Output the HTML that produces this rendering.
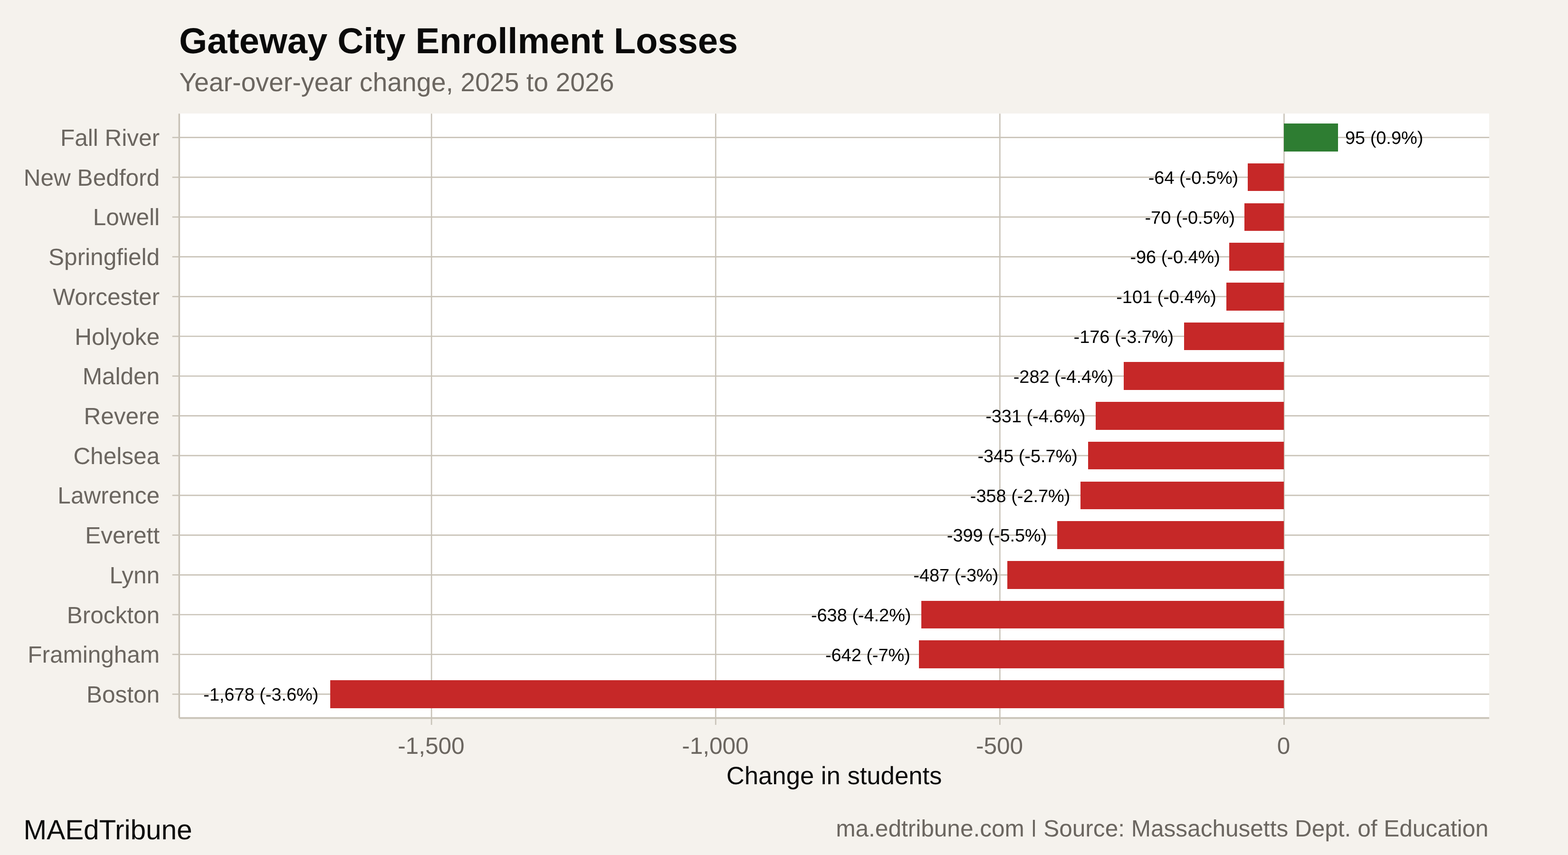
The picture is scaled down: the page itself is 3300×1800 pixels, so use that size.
<!DOCTYPE html>
<html lang="en">
<head>
<meta charset="utf-8">
<title>Gateway City Enrollment Losses</title>
<style>
html,body{margin:0;padding:0;background:#F5F2ED;}
body{width:3300px;height:1800px;}
svg{display:block;}
text{font-family:"Liberation Sans",sans-serif;text-rendering:geometricPrecision;}
.title{font-weight:bold;font-size:75.85px;fill:#0A0A0A;}
.sub{font-size:55.25px;fill:#6B6660;letter-spacing:0.06px;}
.ylab{font-size:49.5px;fill:#6B6660;text-anchor:end;}
.xlab{font-size:49.5px;fill:#6B6660;text-anchor:middle;}
.xtitle{font-size:52.65px;fill:#0A0A0A;text-anchor:middle;}
.val{font-size:37.9px;fill:#000000;}
.cap{font-size:49.56px;fill:#6B6660;text-anchor:end;}
.brand{font-size:58.43px;fill:#0A0A0A;}
</style>
</head>
<body>
<svg width="3300" height="1800" viewBox="0 0 3300 1800" role="img" aria-label="Gateway City Enrollment Losses bar chart">
<rect x="0" y="0" width="3300" height="1800" fill="#F5F2ED"/>
<rect x="377" y="239" width="2757" height="1273" fill="#FFFFFF"/>
<g stroke="#C9C3B8" stroke-width="2.67" fill="none">
<line x1="908.12" y1="239.2" x2="908.12" y2="1511.6"/>
<line x1="1506.22" y1="239.2" x2="1506.22" y2="1511.6"/>
<line x1="2104.32" y1="239.2" x2="2104.32" y2="1511.6"/>
<line x1="2702.42" y1="239.2" x2="2702.42" y2="1511.6"/>
<line x1="377" y1="289.45" x2="3134.2" y2="289.45"/>
<line x1="377" y1="373.16" x2="3134.2" y2="373.16"/>
<line x1="377" y1="456.88" x2="3134.2" y2="456.88"/>
<line x1="377" y1="540.59" x2="3134.2" y2="540.59"/>
<line x1="377" y1="624.31" x2="3134.2" y2="624.31"/>
<line x1="377" y1="708.02" x2="3134.2" y2="708.02"/>
<line x1="377" y1="791.73" x2="3134.2" y2="791.73"/>
<line x1="377" y1="875.45" x2="3134.2" y2="875.45"/>
<line x1="377" y1="959.16" x2="3134.2" y2="959.16"/>
<line x1="377" y1="1042.88" x2="3134.2" y2="1042.88"/>
<line x1="377" y1="1126.59" x2="3134.2" y2="1126.59"/>
<line x1="377" y1="1210.3" x2="3134.2" y2="1210.3"/>
<line x1="377" y1="1294.02" x2="3134.2" y2="1294.02"/>
<line x1="377" y1="1377.73" x2="3134.2" y2="1377.73"/>
<line x1="377" y1="1461.45" x2="3134.2" y2="1461.45"/>
</g>
<rect x="2702" y="260" width="114" height="59" fill="#2E7D32"/>
<rect x="2626" y="344" width="76" height="58" fill="#C62828"/>
<rect x="2619" y="428" width="83" height="58" fill="#C62828"/>
<rect x="2587" y="511" width="115" height="59" fill="#C62828"/>
<rect x="2581" y="595" width="121" height="59" fill="#C62828"/>
<rect x="2492" y="679" width="210" height="58" fill="#C62828"/>
<rect x="2365" y="762" width="337" height="59" fill="#C62828"/>
<rect x="2306" y="846" width="396" height="59" fill="#C62828"/>
<rect x="2290" y="930" width="412" height="58" fill="#C62828"/>
<rect x="2274" y="1014" width="428" height="58" fill="#C62828"/>
<rect x="2225" y="1097" width="477" height="59" fill="#C62828"/>
<rect x="2120" y="1181" width="582" height="59" fill="#C62828"/>
<rect x="1939" y="1265" width="763" height="58" fill="#C62828"/>
<rect x="1934" y="1348" width="768" height="59" fill="#C62828"/>
<rect x="695" y="1432" width="2007" height="59" fill="#C62828"/>
<text class="val" x="2830.99" y="303.35" text-anchor="start">95 (0.9%)</text>
<text class="val" x="2606.21" y="387.06" text-anchor="end">-64 (-0.5%)</text>
<text class="val" x="2599.03" y="470.78" text-anchor="end">-70 (-0.5%)</text>
<text class="val" x="2567.93" y="554.49" text-anchor="end">-96 (-0.4%)</text>
<text class="val" x="2559.84" y="638.21" text-anchor="end">-101 (-0.4%)</text>
<text class="val" x="2470.13" y="721.92" text-anchor="end">-176 (-3.7%)</text>
<text class="val" x="2343.33" y="805.63" text-anchor="end">-282 (-4.4%)</text>
<text class="val" x="2284.72" y="889.35" text-anchor="end">-331 (-4.6%)</text>
<text class="val" x="2267.97" y="973.06" text-anchor="end">-345 (-5.7%)</text>
<text class="val" x="2252.42" y="1056.78" text-anchor="end">-358 (-2.7%)</text>
<text class="val" x="2203.38" y="1140.49" text-anchor="end">-399 (-5.5%)</text>
<text class="val" x="2101.27" y="1224.2" text-anchor="end">-487 (-3%)</text>
<text class="val" x="1917.48" y="1307.92" text-anchor="end">-638 (-4.2%)</text>
<text class="val" x="1915.86" y="1391.63" text-anchor="end">-642 (-7%)</text>
<text class="val" x="670.27" y="1475.35" text-anchor="end">-1,678 (-3.6%)</text>
<g stroke="#C9C3B8" stroke-width="2.67" fill="none">
<line x1="908.12" y1="1511.6" x2="908.12" y2="1526"/>
<line x1="1506.22" y1="1511.6" x2="1506.22" y2="1526"/>
<line x1="2104.32" y1="1511.6" x2="2104.32" y2="1526"/>
<line x1="2702.42" y1="1511.6" x2="2702.42" y2="1526"/>
<line x1="362.6" y1="289.45" x2="377" y2="289.45"/>
<line x1="362.6" y1="373.16" x2="377" y2="373.16"/>
<line x1="362.6" y1="456.88" x2="377" y2="456.88"/>
<line x1="362.6" y1="540.59" x2="377" y2="540.59"/>
<line x1="362.6" y1="624.31" x2="377" y2="624.31"/>
<line x1="362.6" y1="708.02" x2="377" y2="708.02"/>
<line x1="362.6" y1="791.73" x2="377" y2="791.73"/>
<line x1="362.6" y1="875.45" x2="377" y2="875.45"/>
<line x1="362.6" y1="959.16" x2="377" y2="959.16"/>
<line x1="362.6" y1="1042.88" x2="377" y2="1042.88"/>
<line x1="362.6" y1="1126.59" x2="377" y2="1126.59"/>
<line x1="362.6" y1="1210.3" x2="377" y2="1210.3"/>
<line x1="362.6" y1="1294.02" x2="377" y2="1294.02"/>
<line x1="362.6" y1="1377.73" x2="377" y2="1377.73"/>
<line x1="362.6" y1="1461.45" x2="377" y2="1461.45"/>
</g>
<g stroke="#C9C3B8" fill="none">
<line x1="377.2" y1="239.2" x2="377.2" y2="1511.6" stroke-width="3.56"/>
<line x1="377" y1="1511.6" x2="3134.2" y2="1511.6" stroke-width="3.56"/>
</g>
<text class="ylab" x="336" y="307.05">Fall River</text>
<text class="ylab" x="336" y="390.76">New Bedford</text>
<text class="ylab" x="336" y="474.48">Lowell</text>
<text class="ylab" x="336" y="558.19">Springfield</text>
<text class="ylab" x="336" y="641.91">Worcester</text>
<text class="ylab" x="336" y="725.62">Holyoke</text>
<text class="ylab" x="336" y="809.33">Malden</text>
<text class="ylab" x="336" y="893.05">Revere</text>
<text class="ylab" x="336" y="976.76">Chelsea</text>
<text class="ylab" x="336" y="1060.48">Lawrence</text>
<text class="ylab" x="336" y="1144.19">Everett</text>
<text class="ylab" x="336" y="1227.9">Lynn</text>
<text class="ylab" x="336" y="1311.62">Brockton</text>
<text class="ylab" x="336" y="1395.33">Framingham</text>
<text class="ylab" x="336" y="1479.05">Boston</text>
<text class="xlab" x="907.32" y="1587.4">-1,500</text>
<text class="xlab" x="1505.42" y="1587.4">-1,000</text>
<text class="xlab" x="2103.52" y="1587.4">-500</text>
<text class="xlab" x="2701.62" y="1587.4">0</text>
<text class="xtitle" x="1755.6" y="1650.8">Change in students</text>
<text class="title" x="377.1" y="111.8">Gateway City Enrollment Losses</text>
<text class="sub" x="377.2" y="192.3">Year-over-year change, 2025 to 2026</text>
<text class="brand" x="49.5" y="1767.3">MAEdTribune</text>
<text class="cap" x="3132.6" y="1761">ma.edtribune.com | Source: Massachusetts Dept. of Education</text>
<rect x="2169.08" y="1761.3" width="14" height="16" fill="#F5F2ED"/>
<rect x="2169.08" y="1718" width="14" height="8" fill="#F5F2ED"/>
</svg>
</body>
</html>
